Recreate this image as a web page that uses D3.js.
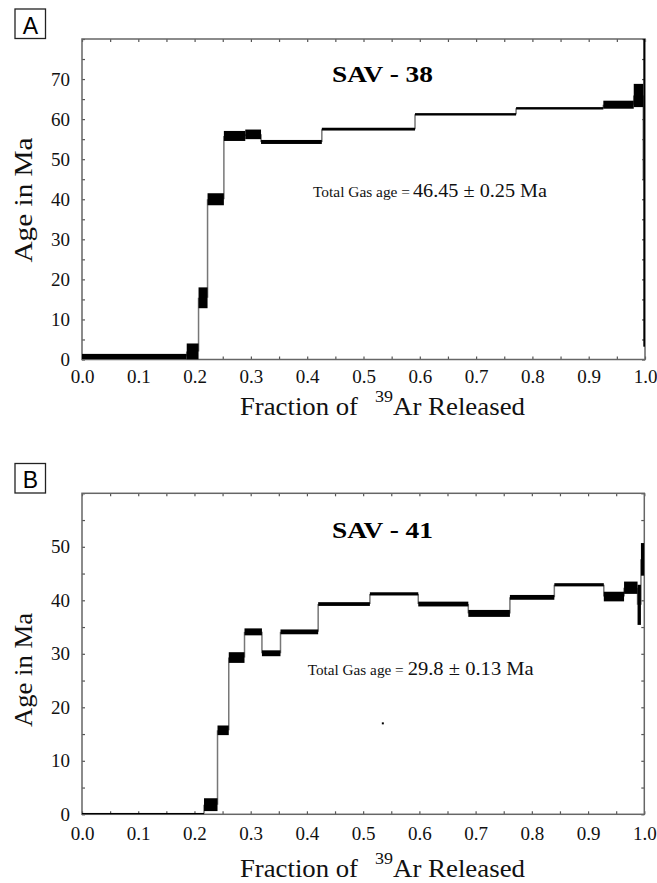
<!DOCTYPE html>
<html>
<head>
<meta charset="utf-8">
<script src="https://cdn.jsdelivr.net/npm/d3@7"></script>
<style>
  body { margin: 0; background: #fff; }
  svg { display: block; }
</style>
</head>
<body>
<div id="chart"></div>
<script>
// Step boundaries (fraction of 39Ar released), plateau ages and errors (Ma)
const fracA = [0, 0.186, 0.207, 0.223, 0.252, 0.290, 0.318, 0.426, 0.5915, 0.771, 0.926, 0.980, 0.997, 1.0];
const ageA = [0.75, 2.0, 15.4, 40.0, 55.8, 56.2, 54.3, 57.5, 61.2, 62.7, 63.6, 65.9, 45.0];
const errA = [0.65, 2.0, 2.6, 1.5, 1.25, 1.2, 0.5, 0.35, 0.3, 0.3, 1.0, 2.9, 41.8];

const fracB = [0, 0.217, 0.241, 0.261, 0.289, 0.320, 0.353, 0.420, 0.512, 0.598, 0.687, 0.761, 0.840, 0.928, 0.964, 0.988, 0.994, 1.0];
const ageB = [0.1, 1.8, 15.7, 29.3, 34.1, 30.1, 34.1, 39.3, 41.2, 39.3, 37.55, 40.55, 42.9, 40.7, 42.35, 39.15, 47.65];
const errB = [0.15, 1.2, 0.9, 1.0, 0.65, 0.55, 0.45, 0.35, 0.3, 0.45, 0.65, 0.45, 0.3, 0.9, 1.15, 3.75, 3.05];

// stray speck visible in panel B
const strayB = [{ f: 0.535, age: 17.0 }];

const xTicks = [0, 0.1, 0.2, 0.3, 0.4, 0.5, 0.6, 0.7, 0.8, 0.9, 1.0];
const yTicksA = [0, 10, 20, 30, 40, 50, 60, 70];
const yTicksB = [0, 10, 20, 30, 40, 50];

const SERIF = "'Liberation Serif', 'DejaVu Serif', serif";

const svg = d3.select("#chart").append("svg")
    .attr("width", 657)
    .attr("height", 883);

function drawPanel(p) {
    const g = svg.append("g")
        .attr("transform", `translate(${p.left}, ${p.top})`);
    const w = p.right - p.left;
    const h = p.bottom - p.top;

    const x = d3.scaleLinear().domain([0, 1]).range([0, w]);
    const y = d3.scaleLinear().domain([0, p.yMax]).range([h, 0]);

    const clipId = "clip" + p.letter;
    g.append("clipPath").attr("id", clipId)
        .append("rect").attr("width", w).attr("height", h);

    // minor inward ticks on all four sides
    const minorX = d3.range(0, 1.0001, 0.05);
    const minorY = d3.range(0, p.yMax + 0.001, 5);
    const tickStyle = sel => {
        sel.select(".domain").remove();
        sel.selectAll("line").attr("stroke", "#555").attr("stroke-width", 1.2);
    };
    g.append("g").attr("transform", `translate(0,${h})`)
        .call(d3.axisBottom(x).tickValues(minorX).tickSize(-3).tickFormat("")).call(tickStyle);
    g.append("g")
        .call(d3.axisTop(x).tickValues(minorX).tickSize(-3).tickFormat("")).call(tickStyle);
    g.append("g")
        .call(d3.axisLeft(y).tickValues(minorY).tickSize(-3).tickFormat("")).call(tickStyle);
    g.append("g").attr("transform", `translate(${w},0)`)
        .call(d3.axisRight(y).tickValues(minorY).tickSize(-3).tickFormat("")).call(tickStyle);

    // labels
    const labelStyle = sel => {
        sel.select(".domain").remove();
        sel.attr("font-family", null).attr("font-size", null);
        sel.selectAll("text")
            .style("font-family", SERIF)
            .style("font-size", "19px")
            .attr("fill", "#111");
    };
    g.append("g").attr("transform", `translate(0,${h})`)
        .call(d3.axisBottom(x).tickValues(xTicks).tickSize(0).tickPadding(p.xPad).tickFormat(d3.format(".1f")))
        .call(labelStyle);
    g.append("g")
        .call(d3.axisLeft(y).tickValues(p.yTicks).tickSize(0).tickPadding(12))
        .call(labelStyle);

    // frame
    g.append("rect")
        .attr("width", w).attr("height", h)
        .attr("fill", "none").attr("stroke", "#666").attr("stroke-width", 1.5);

    const steps = p.ages.map((a, i) => ({ x0: p.frac[i], x1: p.frac[i + 1], age: a, err: p.errs[i] }));
    const plot = g.append("g").attr("clip-path", `url(#${clipId})`);

    // vertical connectors between steps
    plot.selectAll(".conn")
        .data(steps.slice(1))
        .enter().append("line")
        .attr("class", "conn")
        .attr("x1", d => x(d.x0)).attr("x2", d => x(d.x0))
        .attr("y1", (d, i) => y(steps[i].age))
        .attr("y2", d => y(d.age))
        .attr("stroke", "#777").attr("stroke-width", 1.5);

    // plateau boxes (age +/- error)
    plot.selectAll(".step")
        .data(steps)
        .enter().append("rect")
        .attr("class", "step")
        .attr("x", d => x(d.x0))
        .attr("width", d => Math.max(1.5, x(d.x1) - x(d.x0)))
        .attr("y", d => y(d.age + d.err))
        .attr("height", d => Math.max(1.5, y(d.age - d.err) - y(d.age + d.err)))
        .attr("fill", "#000");

    plot.selectAll(".stray")
        .data(p.stray || [])
        .enter().append("rect")
        .attr("x", d => x(d.f) - 1).attr("y", d => y(d.age) - 1)
        .attr("width", 2).attr("height", 2)
        .attr("fill", "#000");

    // panel letter box
    svg.append("rect")
        .attr("x", 15).attr("y", p.boxTop)
        .attr("width", 30.5).attr("height", 29.5)
        .attr("fill", "#fff").attr("stroke", "#222").attr("stroke-width", 1.3);
    svg.append("text")
        .attr("x", 30.5).attr("y", p.boxTop + 24.5)
        .attr("text-anchor", "middle")
        .style("font-family", "'Liberation Sans', Arial, sans-serif")
        .style("font-size", "23px")
        .text(p.letter);

    // sample title
    svg.append("text")
        .attr("x", 332).attr("y", p.titleY)
        .attr("textLength", 101).attr("lengthAdjust", "spacingAndGlyphs")
        .style("font-family", SERIF)
        .style("font-size", "24px").style("font-weight", "bold")
        .text(p.title);

    // total gas age note
    const note = svg.append("text")
        .attr("y", p.noteY)
        .style("font-family", SERIF)
        .attr("fill", "#111");
    note.append("tspan")
        .attr("x", p.noteX0).attr("textLength", p.noteLen0).attr("lengthAdjust", "spacingAndGlyphs")
        .style("font-size", "14px")
        .text("Total Gas age =");
    note.append("tspan")
        .attr("x", p.noteX1).attr("textLength", p.noteLen1).attr("lengthAdjust", "spacingAndGlyphs")
        .style("font-size", "19px")
        .text(p.note);

    // axis titles
    const xt = svg.append("text")
        .attr("y", p.xTitleY)
        .style("font-family", SERIF)
        .attr("fill", "#111");
    xt.append("tspan")
        .attr("x", 240).attr("textLength", 118).attr("lengthAdjust", "spacingAndGlyphs")
        .style("font-size", "26px")
        .text("Fraction of");
    xt.append("tspan")
        .attr("x", 375).attr("y", p.xTitleY - 13).attr("textLength", 18).attr("lengthAdjust", "spacingAndGlyphs")
        .style("font-size", "17px")
        .text("39");
    xt.append("tspan")
        .attr("x", 393).attr("y", p.xTitleY).attr("textLength", 132).attr("lengthAdjust", "spacingAndGlyphs")
        .style("font-size", "26px")
        .text("Ar Released");

    svg.append("text")
        .attr("transform", `translate(32, ${p.yTitleMid}) rotate(-90)`)
        .attr("text-anchor", "middle")
        .attr("textLength", p.yTitleLen).attr("lengthAdjust", "spacingAndGlyphs")
        .style("font-family", SERIF)
        .style("font-size", "26px")
        .attr("fill", "#111")
        .text("Age in Ma");
}

drawPanel({
    letter: "A", left: 82, right: 645, top: 39, bottom: 359.5, yMax: 80,
    frac: fracA, ages: ageA, errs: errA, yTicks: yTicksA, xPad: 10,
    boxTop: 9, title: "SAV - 38", titleY: 82,
    noteY: 197, noteX0: 313, noteLen0: 97, noteX1: 413, noteLen1: 134, note: "46.45 \u00b1 0.25 Ma",
    xTitleY: 415, yTitleMid: 200, yTitleLen: 125
});

drawPanel({
    letter: "B", left: 82, right: 644.3, top: 493.3, bottom: 814.3, yMax: 60,
    frac: fracB, ages: ageB, errs: errB, yTicks: yTicksB, xPad: 12, stray: strayB,
    boxTop: 463.5, title: "SAV - 41", titleY: 538,
    noteY: 675, noteX0: 307.7, noteLen0: 96, noteX1: 407.7, noteLen1: 126, note: "29.8 \u00b1 0.13 Ma",
    xTitleY: 877, yTitleMid: 670, yTitleLen: 114
});
</script>
</body>
</html>
